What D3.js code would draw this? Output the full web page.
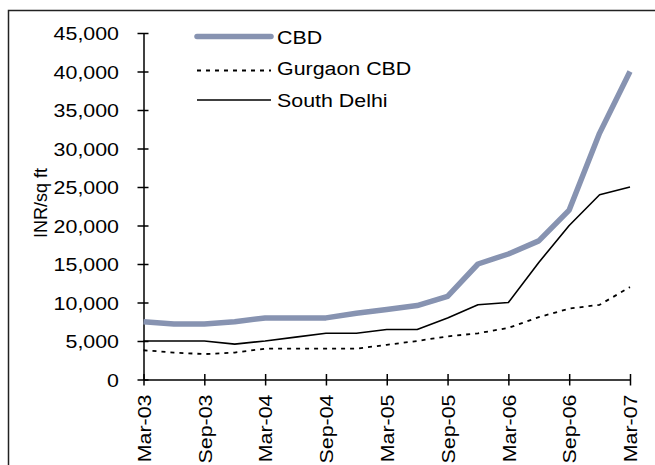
<!DOCTYPE html>
<html>
<head>
<meta charset="utf-8">
<script src="https://cdn.jsdelivr.net/npm/d3@7"></script>
<style>
  html, body { margin: 0; padding: 0; background: #fff; }
  svg { display: block; }
  text { font-family: "Liberation Sans", Arial, sans-serif; font-weight: 400; fill: #000; }
</style>
</head>
<body>
<svg id="chart" width="655" height="465"></svg>
<script>
// Quarterly office rents, INR per sq ft
const periods = ["Mar-03","Jun-03","Sep-03","Dec-03","Mar-04","Jun-04","Sep-04","Dec-04",
                 "Mar-05","Jun-05","Sep-05","Dec-05","Mar-06","Jun-06","Sep-06","Dec-06","Mar-07"];
const cbd        = [7500,7200,7200,7500,8000,8000,8000,8600,9100,9600,10800,15000,16300,18000,22000,32000,40000];
const gurgaonCbd = [3800,3500,3300,3500,4000,4000,4000,4000,4500,5000,5600,6000,6700,8100,9200,9700,12000];
const southDelhi = [5000,5000,5000,4600,5000,5500,6000,6000,6500,6500,8000,9700,10000,15200,20000,24000,25000];
const yTicks = [0,5000,10000,15000,20000,25000,30000,35000,40000,45000];
const xTickLabels = periods.filter((d, i) => i % 2 === 0);
const seriesNames = ["CBD", "Gurgaon CBD", "South Delhi"];

const svg = d3.select("#chart");
const stretch = "scale(1.15,1)";
const fontSize = "18.6px";

// outer frame
svg.append("rect")
  .attr("x", 8.5).attr("y", 10.5)
  .attr("width", 700).attr("height", 500)
  .attr("fill", "none").attr("stroke", "#222").attr("stroke-width", 1.5);

const x = d3.scalePoint().domain(periods).range([143.5, 630]);
const y = d3.scaleLinear().domain([0, 45000]).range([379.5, 33]);

// y axis
const yAxis = svg.append("g")
  .attr("transform", "translate(143.5,0)")
  .call(d3.axisLeft(y).tickValues(yTicks).tickFormat(d3.format(",")).tickSize(6).tickSizeOuter(0));
yAxis.select(".domain").attr("stroke", "#000").attr("stroke-width", 1.5);
yAxis.selectAll(".tick line").attr("x1", 5).attr("x2", -6).attr("stroke", "#000").attr("stroke-width", 1.5);
yAxis.selectAll(".tick text")
  .attr("x", -24.5 / 1.15).attr("dy", "0.36em")
  .attr("transform", stretch)
  .style("font-size", fontSize).style("font-family", "'Liberation Sans', Arial, sans-serif");

// x axis
const xAxis = svg.append("g")
  .attr("transform", "translate(0,379.5)")
  .call(d3.axisBottom(x).tickValues(xTickLabels).tickSize(6).tickSizeOuter(0));
xAxis.select(".domain").attr("stroke", "#000").attr("stroke-width", 1.5);
xAxis.selectAll(".tick line").attr("y1", -5.5).attr("y2", 6).attr("stroke", "#000").attr("stroke-width", 1.5);
xAxis.selectAll(".tick text")
  .attr("x", -15 / 1.15).attr("y", 0).attr("dy", "0.36em")
  .attr("text-anchor", "end")
  .attr("transform", "rotate(-90) " + stretch)
  .style("font-size", fontSize).style("font-family", "'Liberation Sans', Arial, sans-serif");

// y axis title
svg.append("text")
  .attr("transform", "translate(46.5,203) rotate(-90)")
  .attr("text-anchor", "middle")
  .style("font-size", "18px")
  .text("INR/sq ft");

const line = d3.line()
  .x((d, i) => x(periods[i]))
  .y(d => y(d));

const styles = [
  { data: cbd,        stroke: "#8793b1", width: 5.5, dash: null },
  { data: gurgaonCbd, stroke: "#000",    width: 1.8, dash: "4,5" },
  { data: southDelhi, stroke: "#000",    width: 1.6, dash: null }
];

styles.forEach(s => {
  svg.append("path")
    .datum(s.data)
    .attr("d", line)
    .attr("fill", "none")
    .attr("stroke", s.stroke)
    .attr("stroke-width", s.width)
    .attr("stroke-linejoin", "round")
    .attr("stroke-dasharray", s.dash);
});

// legend
const legendLineY = [36.5, 70.5, 100];
const legendTextY = [43.5, 75, 106.5];
seriesNames.forEach((name, i) => {
  const s = styles[i];
  svg.append("line")
    .attr("x1", 197).attr("x2", 271)
    .attr("y1", legendLineY[i]).attr("y2", legendLineY[i])
    .attr("stroke", s.stroke)
    .attr("stroke-width", s.width)
    .attr("stroke-linecap", i === 0 ? "round" : "butt")
    .attr("stroke-dasharray", s.dash);
  svg.append("text")
    .attr("transform", `translate(277,${legendTextY[i]}) ${stretch}`)
    .style("font-size", fontSize)
    .text(name);
});
</script>
</body>
</html>
